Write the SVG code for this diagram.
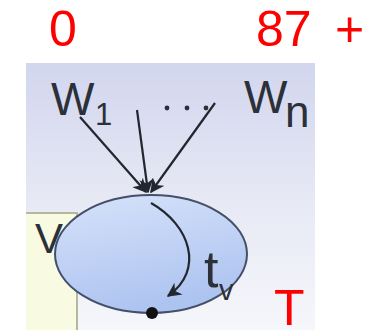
<svg xmlns="http://www.w3.org/2000/svg" width="367" height="335" viewBox="0 0 367 335">
<style>
.red{fill:#ff0000;font-family:"Liberation Sans",Arial,sans-serif;font-size:50px}
.lbl{fill:#2c3038;font-family:"Liberation Sans",Arial,sans-serif}
.arr{stroke:#22262e;stroke-width:2.2;fill:none;marker-end:url(#ah)}
</style>
<defs>
<linearGradient id="bg" x1="0" y1="0" x2="0" y2="1">
<stop offset="0" stop-color="#d2d6ee"/>
<stop offset="0.5" stop-color="#e6e8f4"/>
<stop offset="1" stop-color="#f6f7fb"/>
</linearGradient>
<linearGradient id="ell" x1="0" y1="0" x2="0.3" y2="1">
<stop offset="0" stop-color="#d6e2fa"/>
<stop offset="1" stop-color="#aec4f0"/>
</linearGradient>
<marker id="ah" viewBox="0 0 10 10" refX="9" refY="5" markerWidth="6.5" markerHeight="6.5" orient="auto" markerUnits="strokeWidth">
<path d="M0,0 L10,5 L0,10 L3,5 z" fill="#22262e"/>
</marker>
</defs>
<rect x="26" y="63" width="289" height="267" fill="url(#bg)"/>
<g id="box">
<rect x="26" y="213" width="51" height="117" fill="#f8fbe2"/>
<path d="M26,213 H77 V330" fill="none" stroke="#b4b89c" stroke-width="2"/>
</g>
<g id="node-v">
<ellipse cx="151" cy="254" rx="96" ry="59" fill="url(#ell)" stroke="#44506a" stroke-width="2"/>
<circle cx="152" cy="313" r="6" fill="#111"/>
<text class="lbl" x="35" y="253" font-size="42">V</text>
<text class="lbl" x="204" y="287" font-size="52">t</text>
<text class="lbl" x="219" y="300" font-size="29">v</text>
</g>
<g id="labels">
<text class="lbl" x="51" y="115" font-size="46">W</text>
<text class="lbl" x="95" y="125" font-size="31">1</text>
<circle cx="167" cy="108" r="2.4" fill="#2c3038"/>
<circle cx="187" cy="108" r="2.4" fill="#2c3038"/>
<circle cx="206" cy="108" r="2.4" fill="#2c3038"/>
<text class="lbl" x="244" y="113" font-size="46">W</text>
<text class="lbl" x="285" y="127" font-size="44">n</text>
</g>
<g id="connectors">
<line class="arr" x1="80" y1="117" x2="146" y2="192"/>
<line class="arr" x1="137" y1="110" x2="148" y2="192"/>
<line class="arr" x1="215" y1="103" x2="151" y2="192"/>
<path class="arr" d="M151,203 C190,225 205,270 168,296"/>
</g>
<text class="red" x="49" y="46">0</text>
<text class="red" x="256" y="46">87<tspan x="335">+</tspan></text>
<text class="red" x="274" y="325" font-size="44">T</text>
</svg>
